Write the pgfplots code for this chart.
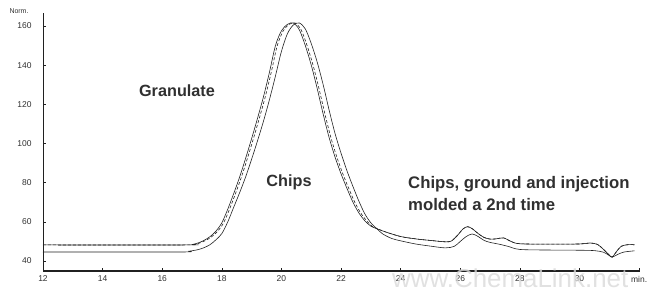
\documentclass[border=0pt]{standalone}
\usepackage{fontspec}
\setmainfont{Liberation Sans}
\usepackage{pgfplots}
\pgfplotsset{compat=1.18}
\definecolor{txt}{HTML}{303030}
\definecolor{ln}{HTML}{202020}
\begin{document}
\begin{tikzpicture}
\path[use as bounding box] (0,0) rectangle (650bp,291bp);
\begin{axis}[
  at={(43bp,20bp)}, anchor=south west,
  scale only axis, width=597bp, height=258bp,
  xmin=12, xmax=32.03, ymin=34.9, ymax=166.6,
  axis x line=bottom, axis y line=left,
  axis line style={-, ln},
  x axis line style={line width=1.1pt},
  y axis line style={line width=0.8pt},
  xtick={12,14,...,32},
  xticklabels={12,14,16,18,20,22,24,26,28,30,min.},
  ytick={40,60,...,160},
  yticklabels={40,60,80,100,120,140,160},
  minor x tick num=3,
  tick align=inside,
  major tick length=3pt, minor tick length=1.5pt,
  tick style={ln, line width=0.5pt},
  ticklabel style={font=\fontsize{8.5}{9}\selectfont, text=txt},
  xticklabel style={yshift=-1.5pt},
  yticklabel style={xshift=-8pt},
  clip=false,
]
% Granulate (solid)
\addplot[ln, line width=0.6pt, smooth, tension=0.5] coordinates {
(12,48.2)(16.8,48.2)(17.0,48.4)(17.2,49.2)(17.4,50.5)(17.6,52.4)(17.8,55.2)(18.0,59.5)(18.2,66.5)(18.4,74.5)(18.6,83)(18.8,92.5)(19.0,102.5)(19.2,113)(19.4,124)(19.6,136.5)(19.8,150)(20.0,157.5)(20.2,160.8)(20.4,161.5)(20.6,158)(20.8,150)(21.0,140)(21.2,128)(21.4,115)(21.6,103)(21.8,93)(22.0,84.5)(22.2,77)(22.4,70)(22.6,64.5)(22.8,60.5)(23.0,57.8)(23.2,56.5)(23.5,54.8)(24.0,52.5)(24.5,51.3)(25.0,50.5)(25.5,49.8)(25.7,50.2)(25.9,53)(26.1,56.5)(26.25,57.5)(26.4,56.5)(26.6,54)(26.8,52)(27.0,51.2)(27.2,51.3)(27.45,51.8)(27.7,50)(28.0,48.8)(29.0,48.6)(30.0,48.7)(30.35,49.2)(30.6,48.5)(30.8,46)(31.0,43)(31.1,42)(31.25,45)(31.4,47.5)(31.6,48.3)(31.85,48.3)
};
% Chips (dashed)
\addplot[ln, line width=0.6pt, dash pattern=on 3pt off 2pt, smooth, tension=0.5] coordinates {
(12,48.2)(16.86,48.2)(17.06,48.4)(17.26,49.2)(17.46,50.5)(17.66,52.4)(17.86,55.2)(18.06,59.5)(18.26,66.5)(18.46,74.5)(18.66,83)(18.86,92.5)(19.06,102.5)(19.26,113)(19.46,124)(19.66,136.5)(19.86,150)(20.06,157.5)(20.26,160.8)(20.46,161.5)(20.66,158)(20.86,150)(21.06,140)(21.26,128)(21.46,115)(21.66,103)(21.86,93)(22.06,84.5)(22.26,77)(22.46,70)(22.66,64.5)(22.86,60.5)(23.06,57.6)(23.25,56.3)(23.5,54.8)(24.0,52.5)(24.5,51.3)(25.0,50.5)(25.5,49.8)(25.7,50.2)(25.9,53)(26.1,56.5)(26.25,57.5)(26.4,56.5)(26.6,54)(26.8,52)(27.0,51.2)(27.2,51.3)(27.45,51.8)(27.7,50)(28.0,48.8)(29.0,48.6)(30.0,48.7)(30.35,49.2)(30.6,48.5)(30.8,46)(31.0,43)(31.1,42)(31.25,45)(31.4,47.5)(31.6,48.3)(31.85,48.3)
};
% Chips, ground and injection molded a 2nd time (solid)
\addplot[ln, line width=0.6pt, smooth, tension=0.5] coordinates {
(12,44.6)(16.6,44.6)(16.9,45.0)(17.2,45.8)(17.4,46.8)(17.6,48.3)(17.8,50.8)(18.0,54)(18.2,60)(18.4,67.5)(18.6,75)(18.8,83)(19.0,92)(19.2,101.5)(19.4,111.5)(19.6,122.5)(19.8,134.5)(20.0,147)(20.2,156)(20.4,160.5)(20.6,161.5)(20.8,158.5)(21.0,151)(21.2,141.5)(21.4,130)(21.6,117)(21.8,105)(22.0,95)(22.2,86)(22.4,78)(22.6,70.5)(22.8,64)(23.0,59.5)(23.2,56.5)(23.4,53.8)(23.7,51.5)(24.0,50.3)(24.5,48.7)(25.0,47.6)(25.5,46.7)(25.8,47.5)(26.0,50)(26.2,52.5)(26.4,53.8)(26.6,52.5)(26.8,50.5)(27.0,49.5)(27.3,48.6)(27.6,47.5)(28.0,45.9)(29.0,45.6)(30.0,45.5)(30.5,45.3)(30.8,44.5)(31.0,42.8)(31.1,42)(31.3,43.5)(31.5,44.6)(31.85,45.2)
};
\end{axis}
\node[font=\fontsize{7}{8}\selectfont, text=txt] at (19bp,280bp) {Norm.};
\node[font=\bfseries\fontsize{16.3}{18}\selectfont, text=txt, anchor=base] at (177bp,194bp) {Granulate};
\node[font=\bfseries\fontsize{16.3}{18}\selectfont, text=txt, anchor=base] at (289bp,104bp) {Chips};
\node[font=\bfseries\fontsize{16.8}{18}\selectfont, text=txt, anchor=base west, inner sep=0pt] at (408bp,102bp) {Chips, ground and injection};
\node[font=\bfseries\fontsize{16.8}{18}\selectfont, text=txt, anchor=base west, inner sep=0pt] at (408bp,80bp) {molded a 2nd time};
\node[font=\fontsize{26}{28}\selectfont, text=gray!30, anchor=base west, inner sep=0pt, opacity=0.8] at (392bp,4bp) {www.ChemaLink.net};
\end{tikzpicture}
\end{document}
